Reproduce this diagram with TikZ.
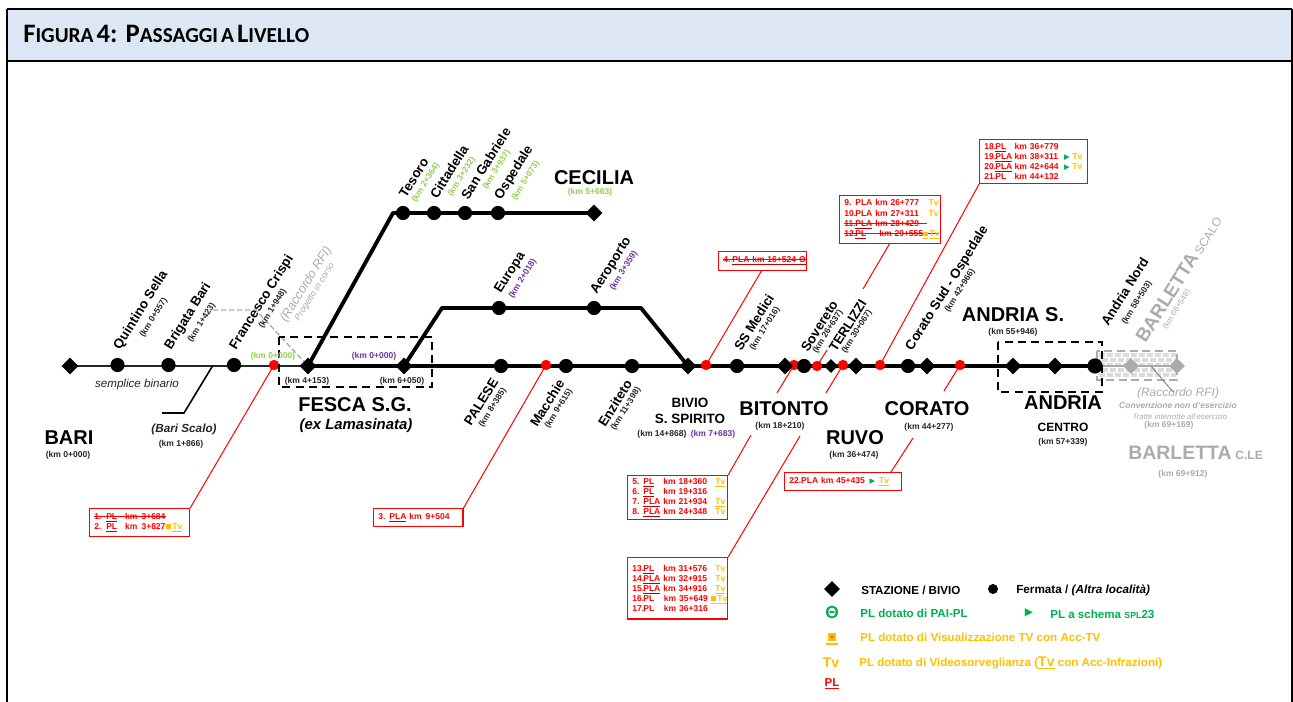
\documentclass[tikz,border=0pt]{standalone}
\usepackage{fontspec}
\setmainfont{Liberation Sans}
\newfontfamily\carl{Carlito}
\newfontfamily\djv{DejaVu Sans}
\usetikzlibrary{shapes.geometric}
\definecolor{hdr}{HTML}{DCE7F3}
\definecolor{amb}{HTML}{FFC000}
\definecolor{grn}{HTML}{00B050}
\definecolor{kmg}{HTML}{92D050}
\definecolor{pur}{HTML}{7030A0}
\definecolor{gr}{HTML}{ABABAB}
\definecolor{ulr}{HTML}{C00000}
\newcommand\fs[1]{\fontsize{#1}{#1}\selectfont}
\newlength\cola \newlength\colb \newlength\colc
\newcommand\setcols[3]{\global\cola=#1\relax\global\colb=#2\relax\global\colc=#3\relax}
\newcommand\Rw[4]{\mbox{\makebox[\cola][l]{#1}\makebox[\colb][l]{#2}\makebox[\colc][l]{#3}#4}}
\newcommand\strk[1]{\leavevmode\setbox0\hbox{#1}\rlap{\rule[.33em]{\wd0}{.45pt}}\box0\relax}
\newcommand\ulp[1]{{\color{ulr}\underline{\textcolor{red}{#1}}}}
\newcommand\tvt{\textcolor{amb}{Tv}}
\newcommand\utv{{\color{amb}\underline{Tv}}}
\newcommand\sqr{\textcolor{amb}{\rule[.05em]{.55em}{.55em}}}
\newcommand\usq{{\color{amb}\underline{\rule[.05em]{.55em}{.55em}}}}
\newcommand\trig{\textcolor{grn}{{\djv\fs{5.5pt}▶}}}
\tikzset{
  x=.75pt,y=-.75pt,
  dia/.style={diamond,fill=black,inner sep=0pt,minimum size=12.6pt},
  dot/.style={circle,fill=black,inner sep=0pt,minimum size=10.6pt},
  pldot/.style={circle,fill=red,inner sep=0pt,minimum size=7.8pt},
  trk/.style={line width=2.9pt,black,line join=round},
  thinbk/.style={line width=1.6pt,black!85},
  leader/.style={red,line width=.75pt},
  dbox/.style={black,line width=1.1pt,dash pattern=on 6pt off 4pt},
  stn/.style={font=\fs{10pt}\bfseries,anchor=west,rotate=58,inner sep=0pt,xshift=2.6pt,yshift=-2pt},
  kmt/.style={font=\fs{6.4pt}\bfseries,inner sep=0pt,text=black!85},
  kmr/.style={kmt,anchor=west,rotate=58,xshift=.2pt,yshift=-1.5pt},
  bign/.style={font=\fs{15pt}\bfseries,inner sep=0pt,text=black},
  plbox/.style={draw=red,line width=.9pt,anchor=north west,inner xsep=3.5pt,inner ysep=0pt,
    align=left,font={\fontsize{6.4pt}{7.5pt}\selectfont\bfseries},text=red},
  lg/.style={anchor=west,inner sep=0pt,font=\fs{8.7pt}\bfseries},
}
\begin{document}
\begin{tikzpicture}
\useasboundingbox (0,0) rectangle (1293,702);
% frame and title
\fill[hdr] (7,9) rectangle (1292,61);
\draw[line width=1.5pt] (7,9) -- (1292,9);
\draw[line width=1.5pt] (7,61) -- (1292,61);
\draw[line width=1.3pt] (7,9) -- (7,702);
\draw[line width=.8pt] (1292,9) -- (1292,702);
\node[anchor=base west,inner sep=0pt,font=\carl\bfseries] (title) at (23,43)
 {{\fs{20pt}F}{\fs{16pt}IGURA} {\fs{20pt}4: P}{\fs{16pt}ASSAGGI} {\fs{16pt}A} {\fs{20pt}L}{\fs{16pt}IVELLO}};
% anchor points of the line
\coordinate (barp) at (70,366);
\coordinate (fescp) at (308,366);
\coordinate (fesb) at (404,366);
\coordinate (bivp) at (688,366);
\coordinate (andn) at (1095,366);
\coordinate (ces1) at (393,213);
\coordinate (ces2) at (594,213);
\coordinate (eu1) at (442,308);
\coordinate (eu2) at (641,308);
\coordinate (bsa) at (212.5,366);
\coordinate (bsb) at (184,413);
\coordinate (bsc) at (162,413);
% gray zone
\foreach \yy/\ph in {355/0,360/4,365/0,370/4,375/0}{
 \draw[black!14,line width=2.6pt,dash pattern=on 4.5pt off 1.5pt,dash phase=\ph pt] (1099,\yy) -- (1176,\yy);}
\draw[gr,line width=1pt,dash pattern=on 6pt off 3.5pt] (1097,351) rectangle (1177,380);
\coordinate (grlinea) at (1102,366);
\coordinate (grlineb) at (1177,366);
\draw[gr,line width=1pt] (grlinea) -- (grlineb);
\coordinate (gra) at (1151,366);
\coordinate (grb) at (1173,392);
\draw[black!45,line width=.8pt] (gra) -- (grb);
\node[diamond,fill=gr,inner sep=0pt,minimum size=12pt] (barl1) at (1131,366) {};
\node[diamond,fill=gr,inner sep=0pt,minimum size=12pt] (barl2) at (1177,366) {};
% raccordo dashed
\coordinate (ra) at (213,310);
\coordinate (rb) at (256,310);
\draw[gr,line width=1pt,dash pattern=on 4pt off 2pt] (ra) -- (rb) -- (fescp);
% tracks
\draw[thinbk] (barp) -- (fescp);
\draw[trk] (fescp) -- (andn);
\draw[trk] (fescp) -- (ces1) -- (ces2);
\draw[trk] (fesb) -- (eu1) -- (eu2) -- (bivp);
\draw[line width=1.2pt] (bsa) -- (bsb) -- (bsc);
% PL dots and leaders
\node[pldot] (p1) at (274,365) {};
\node[pldot] (p3) at (546,365) {};
\node[pldot] (p4) at (706,365) {};
\node[pldot] (p5) at (794,365) {};
\node[pldot] (p9) at (817,366) {};
\node[pldot] (p13) at (843,365) {};
\node[pldot] (p18) at (880,365) {};
\node[pldot] (p22) at (960,365) {};
% stations
\node[dia] (bari) at (barp) {};
\node[dia] (fesca) at (fescp) {};
\node[dia] (fesb2) at (fesb) {};
\node[dia] (bivio) at (bivp) {};
\node[dia] (bitonto) at (785,366) {};
\node[dia,minimum size=10.5pt] (terl) at (831,366) {};
\node[dia] (ruvo) at (856,366) {};
\node[dia] (corato) at (927,366) {};
\node[dia] (andrs) at (1013,366) {};
\node[dia] (andrc) at (1055,366) {};
\node[dia] (cecil) at (ces2) {};
\node[dot] (quin) at (117.5,365) {};
\node[dot] (brig) at (168.5,365) {};
\node[dot] (fran) at (234,365) {};
\node[dot] (pale) at (501,366) {};
\node[dot] (macc) at (566,366) {};
\node[dot] (enzi) at (632,366) {};
\node[dot] (ssme) at (737,366) {};
\node[dot] (sove) at (804,366) {};
\node[dot] (cors) at (908,366) {};
\node[dot,minimum size=11.4pt] (andnd) at (andn) {};
\node[dot] (teso) at (403,213) {};
\node[dot] (citt) at (434,213) {};
\node[dot] (sang) at (465,213) {};
\node[dot] (ospe) at (498,213) {};
\node[dot] (euro) at (499,308) {};
\node[dot] (aero) at (594,308) {};
% dashed boxes
\draw[dbox] (279,337) rectangle (432,387);
\draw[dbox] (998,342) rectangle (1102,392);
% rotated labels
\node[stn] (l1) at (113,350) {Quintino Sella};
\node[kmr] (k1) at (140,336) {(km 0+557)};
\node[stn] (l2) at (164,350) {Brigata Bari};
\node[kmr] (k2) at (188,341) {(km 1+423)};
\node[stn] (l3) at (229,350) {Francesco Crispi};
\node[kmr] (k3) at (259,327) {(km 1+948)};
\node[stn,text=gr,font=\fs{9.5pt}\itshape] (r1) at (279,323) {(Raccordo RFI)};
\node[stn,text=gr,font=\fs{6.6pt}\itshape] (r2) at (293,322) {Progetto in corso};
\node[stn] (l4) at (398,198) {Tesoro};
\node[kmr,text=kmg] (k4) at (412,201) {(km 2+364)};
\node[stn] (l5) at (429,199) {Cittadella};
\node[kmr,text=kmg] (k5) at (448,195) {(km 3+232)};
\node[stn] (l6) at (460,200) {San Gabriele};
\node[kmr,text=kmg] (k6) at (483,188) {(km 3+937)};
\node[stn] (l7) at (494,200) {Ospedale};
\node[kmr,text=kmg] (k7) at (512,199) {(km 5+073)};
\node[stn] (l8) at (494,294) {Europa};
\node[kmr,text=pur] (k8) at (509,297) {(km 2+018)};
\node[stn] (l9) at (590,295) {Aeroporto};
\node[kmr,text=pur] (k9) at (610,289) {(km 3+359)};
\node[stn] (l10) at (463,426) {PALESE};
\node[kmr] (k10) at (479,426) {(km 8+385)};
\node[stn] (l11) at (529,427) {Macchie};
\node[kmr] (k11) at (545,427) {(km 9+615)};
\node[stn] (l12) at (597,427) {Enziteto};
\node[kmr] (k12) at (611,429) {(km 11+398)};
\node[stn] (l13) at (733,351) {SS Medici};
\node[kmr] (k13) at (750,349) {(km 17+016)};
\node[stn] (l14) at (800,352) {Sovereto};
\node[kmr] (k14) at (813,352) {(km 26+637)};
\node[stn] (l15) at (828,352) {TERLIZZI};
\node[kmr] (k15) at (842,352) {(km 30+067)};
\node[stn] (l16) at (905,351) {Corato Sud - Ospedale};
\node[kmr] (k16) at (945,311) {(km 42+966)};
\node[stn] (l17) at (1100,326) {Andria Nord};
\node[kmr] (k17) at (1122,323) {(km 58+503)};
\node[stn,text=gr,font=\bfseries] (l18) at (1136,342) {{\fs{14.2pt}BARLETTA} {\fs{9pt}\mdseries SCALO}};
\node[kmr,text=gr,font=\fs{6pt}] (k18) at (1163,328) {(km 68+548)};
% horizontal labels
\node[kmt,text=kmg] (k0a) at (273,356) {(km 0+000)};
\node[kmt,text=pur] (k0b) at (374,356) {(km 0+000)};
\node[kmt] (k41) at (307,381) {(km 4+153)};
\node[kmt] (k60) at (402,381) {(km 6+050)};
\node[bign] (fescat) at (355,405) {FESCA S.G.};
\node[inner sep=0pt,font=\fs{11.2pt}\bfseries\itshape] (lama) at (356,426) {(ex Lamasinata)};
\node[inner sep=0pt,font=\fs{8.7pt}\itshape,text=black!85] (semp) at (137,385) {semplice binario};
\node[bign] (barit) at (69,438) {BARI};
\node[kmt] (barik) at (68,455) {(km 0+000)};
\node[inner sep=0pt,font=\fs{8.8pt}\bfseries\itshape,text=black!85] (bscal) at (184,429) {(Bari Scalo)};
\node[kmt] (bscak) at (181,444) {(km 1+866)};
\node[bign] (cecit) at (594,178) {CECILIA};
\node[kmt,text=kmg] (cecik) at (590,192) {(km 5+663)};
\node[inner sep=0pt,font=\fs{10.1pt}\bfseries] (bi1) at (690,403) {BIVIO};
\node[inner sep=0pt,font=\fs{10.1pt}\bfseries] (bi2) at (690,419) {S. SPIRITO};
\node[kmt] (bik1) at (662,434) {(km 14+868)};
\node[kmt,text=pur] (bik2) at (713,434) {(km 7+683)};
\node[bign] (bitt) at (784,409) {BITONTO};
\node[kmt] (bitk) at (780,426) {(km 18+210)};
\node[bign] (ruvt) at (855,438) {RUVO};
\node[kmt] (ruvk) at (854,455) {(km 36+474)};
\node[bign] (cort) at (927,409) {CORATO};
\node[kmt] (cork) at (929,427) {(km 44+277)};
\node[bign] (ast) at (1013,315) {ANDRIA S.};
\node[kmt] (ask) at (1013,332) {(km 55+946)};
\node[bign] (act) at (1063,403) {ANDRIA};
\node[inner sep=0pt,font=\fs{9pt}\bfseries] (cen) at (1063,427) {CENTRO};
\node[kmt] (cenk) at (1063,442) {(km 57+339)};
\node[inner sep=0pt,font=\fs{9pt}\itshape,text=gr] (rr) at (1178,393) {(Raccordo RFI)};
\node[inner sep=0pt,font=\fs{6.4pt}\bfseries\itshape,text=gr] (conv) at (1178,405) {Convenzione non d'esercizio};
\node[inner sep=0pt,font=\fs{5.8pt}\itshape,text=gr] (trat) at (1180,417) {Tratte interrotte all'esercizio};
\node[kmt,text=gr] (k69) at (1169,425) {(km 69+169)};
\node[anchor=base west,inner sep=0pt,text=gr,font=\bfseries] (blc) at (1128,459) {{\fs{14.6pt}BARLETTA} {\fs{9pt}C.LE}};
\node[kmt,text=gr] (k699) at (1183,474) {(km 69+912)};
% PL boxes
\setcols{9pt}{14.2pt}{30.8pt}
\node[plbox,minimum width=75pt,minimum height=21pt,text width=68pt] (box1) at (89,508)
 {\strk{\Rw{1.}{\ulp{PL}}{km\hspace{3pt}3+684}{}}\\
  \Rw{2.}{\ulp{PL}}{km\hspace{3pt}3+827}{\sqr\,\utv}};
\node[plbox,minimum width=66.75pt,minimum height=13.5pt,text width=60pt] (box3) at (373,508)
 {3.\hspace{3pt}\ulp{PLA} km\hspace{3pt}9+504};
\node[plbox,minimum width=66pt,minimum height=14pt,text width=59pt] (box4) at (718,251)
 {\strk{4.\hspace{1.5pt}\ulp{PLA km 16+524 Θ}}};
\setcols{8.3pt}{15pt}{39pt}
\node[plbox,minimum width=75pt,minimum height=33pt,text width=68pt] (box5) at (627,475)
 {\Rw{5.}{\ulp{PL}}{km 18+360}{\utv}\\
  \Rw{6.}{\ulp{PL}}{km 19+316}{}\\
  \Rw{7.}{\ulp{PLA}}{km 21+934}{\utv}\\
  \Rw{8.}{\ulp{PLA}}{km 24+348}{\tvt}};
\node[plbox,minimum width=75.75pt,minimum height=36pt,text width=68.75pt] (box9) at (839,195)
 {\Rw{9.}{PLA}{km 26+777}{\hspace{1pt}\tvt}\\[.8pt]
  \Rw{10.}{PLA}{km 27+311}{\hspace{1pt}\tvt}\\
  \strk{\Rw{11.}{\ulp{PLA}}{km 28+429}{}}\\
  \strk{\Rw{12.}{\ulp{PL}}{\hspace{3pt}km 29+555}{\hspace{-3pt}\usq\,\utv}}};
\node[plbox,minimum width=75pt,minimum height=46pt,text width=68pt] (box13) at (627,557)
 {\Rw{13.}{\ulp{PL}}{km 31+576}{\tvt}\\
  \Rw{14.}{\ulp{PLA}}{km 32+915}{\tvt}\\
  \Rw{15.}{\ulp{PLA}}{km 34+916}{\utv}\\
  \Rw{16.}{PL}{\hspace{.5pt}km 35+649}{\hspace{-3pt}\usq\,\utv}\\
  \Rw{17.}{PL}{\hspace{.5pt}km 36+316}{}};
\setcols{8.3pt}{14.5pt}{34pt}
\node[plbox,minimum width=81pt,minimum height=33pt,text width=74pt] (box18) at (979,139)
 {\Rw{18.}{\ulp{PL}}{km 36+779}{}\\
  \Rw{19.}{\ulp{PLA}}{km 38+311}{\hspace{3pt}\trig\ \tvt}\\
  \Rw{20.}{\ulp{PLA}}{km 42+644}{\hspace{3pt}\trig\ \tvt}\\
  \Rw{21.}{PL}{km 44+132}{}};
\node[plbox,minimum width=87.75pt,minimum height=13.5pt,text width=80.75pt] (box22) at (784,472)
 {22.PLA km 45+435\hspace{3.5pt}\trig\hspace{3pt}\utv};
% leaders
\draw[leader] (p1.center) -- (box1.north east);
\draw[leader] (p3.center) -- (box3.north east);
\coordinate (b4l) at (762,270);
\draw[leader] (p4.center) -- (b4l);
\coordinate (a5) at (777,393); \coordinate (b5) at (751,435);
\draw[leader] (p5.center) -- (a5);
\draw[leader] (b5) -- (box5.north east);
\coordinate (a9) at (827,350); \coordinate (b9) at (863,289); \coordinate (c9) at (890,243);
\draw[leader] (p9.center) -- (a9);
\draw[leader] (b9) -- (c9);
\coordinate (a13) at (826,393); \coordinate (b13) at (800,436);
\draw[leader] (p13.center) -- (a13);
\draw[leader] (b13) -- (box13.north east);
\draw[leader] (p18.center) -- (box18.south west);
\coordinate (a22) at (944,391); \coordinate (b22) at (913,438); \coordinate (c22) at (891,472);
\draw[leader] (p22.center) -- (a22);
\draw[leader] (b22) -- (c22);
% legend
\node[dia,minimum size=12pt] (lgd) at (832,589) {};
\node[lg] (lg1) at (861,590) {STAZIONE / BIVIO};
\node[dot,minimum size=7.5pt] (lgc) at (993,589) {};
\node[lg,font=\fs{8.8pt}\bfseries] (lg2) at (1016,590) {Fermata / \textit{(Altra località)}};
\node[inner sep=0pt,text=grn,font=\fs{13pt}\bfseries] (lgt) at (832,613) {Θ};
\node[lg,text=grn] (lg3) at (860,613) {PL dotato di PAI-PL};
\node[inner sep=0pt,text=grn,font=\djv\fs{8pt}] (lgr) at (1029,613) {▶};
\node[lg,text=grn] (lg4) at (1050,614) {PL a schema {\fs{6.6pt}SPL}23};
\node[rectangle,fill=amb,inner sep=0pt,minimum size=6.5pt] (lgs) at (832,637) {};
\node[circle,fill=orange,inner sep=0pt,minimum size=3pt] (lgsi) at (832,637) {};
\coordinate (lgu1) at (826,644); \coordinate (lgu2) at (838,644);
\draw[amb,line width=.9pt] (lgu1) -- (lgu2);
\node[lg,text=amb] (lg5) at (860,637) {PL dotato di Visualizzazione TV con Acc-TV};
\node[inner sep=0pt,text=amb,font=\fs{10.5pt}\bfseries] (lgtv) at (831,663) {Tv};
\node[lg,text=amb] (lg6) at (859,663) {PL dotato di Videosorveglianza ({\fs{10.5pt}\underline{Tv}} con Acc-Infrazioni)};
\node[inner sep=0pt,text=red,font=\fs{8.6pt}\bfseries] (lgpl) at (832,684) {\underline{PL}};
\end{tikzpicture}
\end{document}
